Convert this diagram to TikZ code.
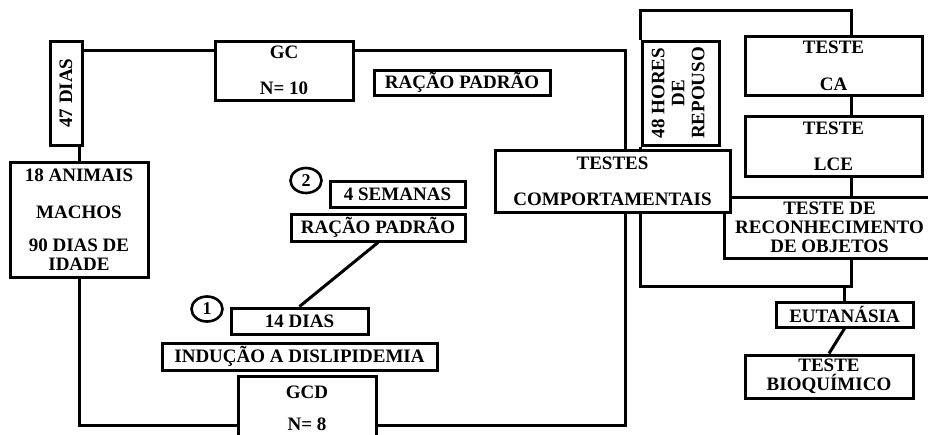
\documentclass[tikz,border=0pt]{standalone}
\usepackage{fontspec}
\setmainfont{Liberation Serif}
\usepackage{graphicx}
\usetikzlibrary{shapes.geometric}

\begin{document}
\begin{tikzpicture}[x=1pt,y=-1pt,line width=3pt,
    box/.style={draw,fill=white,align=center,inner sep=0pt,
      font=\fontsize{19}{19}\selectfont\bfseries},
    num/.style={draw,ellipse,line width=2.6pt,minimum width=31pt,
      minimum height=25pt,inner sep=0pt,font=\fontsize{18}{18}\selectfont\bfseries}]
  \useasboundingbox (0,0) rectangle (928,434);

  % left part
  \node[box,minimum width=32pt,minimum height=104pt] (d47) at (66,93) {\rotatebox{90}{47 DIAS}};
  \node[box,minimum width=138pt,minimum height=59pt] (gc) at (284,70.5) {GC\\[17pt]N= 10};
  \node[box,minimum width=176pt,minimum height=25pt] (rac1) at (462,82.5) {RAÇÃO PADRÃO};
  \node[box,minimum width=138pt,minimum height=115pt] (anim) at (79,219.5)
    {18 ANIMAIS\\[18pt]MACHOS\\[14pt]90 DIAS DE\\IDADE};
  \node[box,minimum width=138pt,minimum height=64pt] (gcd) at (307,408) {GCD\\[13pt]N= 8};
  \node[box,minimum width=275pt,minimum height=27pt] (indu) at (299.5,356.5) {INDUÇÃO A DISLIPIDEMIA};
  \node[box,minimum width=137pt,minimum height=26pt] (d14) at (299.5,321) {14 DIAS};
  \node[num] (c1) at (207,309) {1};
  \node[box,minimum width=174pt,minimum height=27pt] (rac2) at (378,227.5) {RAÇÃO PADRÃO};
  \node[box,minimum width=135pt,minimum height=26pt] (sem4) at (397.5,194) {4 SEMANAS};
  \node[num] (c2) at (306,180.5) {2};

  % right part
  \node[box,minimum width=77pt,minimum height=104pt] (rep48) at (680.5,93)
    {\rotatebox{90}{\begin{tabular}{@{}c@{}}48 HORES\\[1pt]DE\\[1pt]REPOUSO\end{tabular}}};
  \node[box,minimum width=177pt,minimum height=59pt] (ca) at (833.5,65.5) {TESTE\\[18pt]CA};
  \node[box,minimum width=177pt,minimum height=60pt] (lce) at (833.5,146) {TESTE\\[17pt]LCE};
  \node[box,minimum width=211pt,minimum height=61pt] (tro) at (829.5,227.5)
    {TESTE DE\\RECONHECIMENTO\\DE OBJETOS};
  \node[box,minimum width=235pt,minimum height=62pt] (testes) at (612.5,181)
    {TESTES\\[17pt]COMPORTAMENTAIS};
  \node[box,minimum width=137pt,minimum height=25pt] (euta) at (844.5,314.5) {EUTANÁSIA};
  \node[box,minimum width=168pt,minimum height=43pt] (bioq) at (829,376.5) {TESTE\\BIOQUÍMICO};

  % connectors
  \draw ([yshift=-11pt]d47.north east) -- ([yshift=-11pt]gc.north west);
  \draw ([yshift=-11pt]gc.north east) -| ([xshift=12.5pt]testes.north);
  \draw (anim.north) -- (anim.north |- d47.south);
  \draw (anim.south) |- ([yshift=-17pt]gcd.west);
  \draw ([yshift=-17pt]gcd.east) -| ([xshift=12.5pt]testes.south);
  \draw (d14.north) -- (rac2.south);

  \draw (rep48.south west) -- (rep48.south west |- testes.north);
  \draw (rep48.north west) -- ++(0,-29) coordinate (top) -| ([xshift=18pt]ca.north);
  \draw ([xshift=18pt]ca.south) -- ([xshift=18pt]lce.north);
  \draw ([xshift=18pt]lce.south) -- ([xshift=18pt]lce.south |- tro.north);
  \draw (testes.south -| rep48.west) -- ++(0,73) coordinate (low) -| ([xshift=22pt]tro.south);
  \draw (euta.north) -- (euta.north |- low);
  \draw (euta.south) -- (bioq.north);
\end{tikzpicture}
\end{document}
